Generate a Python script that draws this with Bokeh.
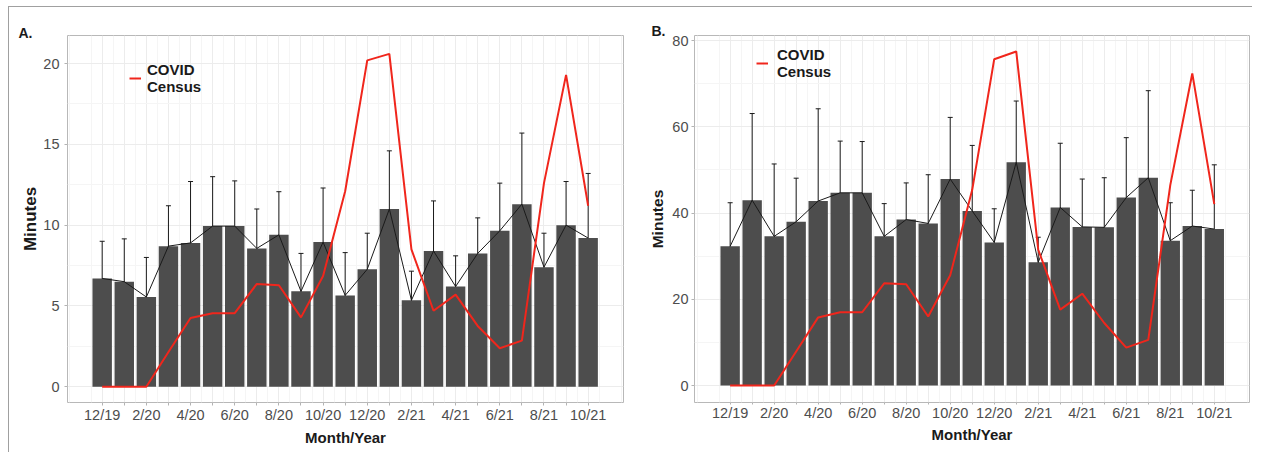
from bokeh.plotting import figure
from bokeh.models import (ColumnDataSource, FixedTicker, Whisker, TeeHead, Legend,
                          LegendItem, Range1d)
from bokeh.layouts import row
from bokeh.embed import file_html
from bokeh.resources import INLINE

months = ["12/19", "1/20", "2/20", "3/20", "4/20", "5/20", "6/20", "7/20", "8/20", "9/20",
          "10/20", "11/20", "12/20", "1/21", "2/21", "3/21", "4/21", "5/21", "6/21", "7/21",
          "8/21", "9/21", "10/21"]

# Panel A
mean_a = [6.7, 6.5, 5.55, 8.7, 8.9, 9.94, 9.94, 8.56, 9.4, 5.9, 8.95, 5.65, 7.27, 11.0,
          5.35, 8.4, 6.2, 8.25, 9.65, 11.3, 7.4, 10.0, 9.2]
lo_a = [4.47, 3.8, 3.1, 6.15, 5.2, 6.85, 7.15, 6.13, 6.77, 3.6, 5.7, 3.0, 5.1, 7.4,
        3.5, 5.4, 4.35, 6.1, 6.7, 6.85, 5.35, 7.25, 5.2]
hi_a = [9.0, 9.15, 8.0, 11.2, 12.7, 13.0, 12.74, 11.0, 12.07, 8.25, 12.3, 8.3, 9.5, 14.6,
        7.15, 11.5, 8.1, 10.45, 12.6, 15.7, 9.5, 12.7, 13.2]
covid_a = [0, 0, 0, 2.15, 4.25, 4.55, 4.55, 6.36, 6.28, 4.29, 6.85, 12.1, 20.2, 20.6,
           8.5, 4.7, 5.7, 3.76, 2.38, 2.85, 12.6, 19.3, 11.2]

# Panel B
mean_b = [32.3, 43.0, 34.6, 38.0, 42.8, 44.7, 44.7, 34.6, 38.5, 37.6, 47.9, 40.5, 33.2,
          51.8, 28.6, 41.3, 36.8, 36.7, 43.6, 48.2, 33.6, 37.0, 36.3]
lo_b = [22.4, 22.9, 17.8, 28.0, 21.2, 32.5, 32.9, 26.8, 30.1, 26.4, 33.8, 25.3, 25.3,
        37.8, 22.7, 26.4, 25.6, 25.4, 30.0, 28.1, 24.9, 28.7, 21.5]
hi_b = [42.4, 63.1, 51.4, 48.1, 64.2, 56.7, 56.6, 42.2, 47.0, 48.9, 62.2, 55.7, 41.0,
        66.0, 34.4, 56.2, 47.9, 48.2, 57.5, 68.4, 42.4, 45.3, 51.2]
covid_b = [0, 0, 0, 7.9, 15.8, 17.0, 17.0, 23.7, 23.5, 16.0, 25.6, 45.4, 75.7, 77.5,
           31.5, 17.6, 21.3, 14.5, 8.8, 10.6, 46.5, 72.4, 42.1]

yticks_a = [0, 5, 10, 15, 20]
yminor_a = [2.5, 7.5, 12.5, 17.5]
yticks_b = [0, 20, 40, 60, 80]
yminor_b = [10, 30, 50, 70]

RED = "#f0261c"
BAR = "#4d4d4d"
FONT = "Liberation Sans"


def panel(tag, mean, lo, hi, covid, xr, yr, yt, ym, width, height, mb, legend_xy,
          leg_standoff, tag_offset, tag_standoff, x_tick_out, xl_so, xal_so, yl_so,
          yal_so, ytitle_size):
    xs = list(range(len(months)))
    src = ColumnDataSource(dict(x=xs, mean=mean, lo=lo, hi=hi, covid=covid))
    p = figure(width=width, height=height, output_backend="svg", toolbar_location=None,
               x_range=Range1d(*xr), y_range=Range1d(*yr),
               min_border_left=mb[0], min_border_right=mb[1],
               min_border_top=mb[2], min_border_bottom=mb[3])
    p.background_fill_color = "white"
    p.border_fill_color = "white"
    p.outline_line_color = "#b8b8b8"
    p.outline_line_width = 1

    p.title.text = tag
    p.title.align = "left"
    p.title.offset = tag_offset
    p.title.standoff = tag_standoff
    p.title.text_font = FONT
    p.title.text_font_size = "14px"
    p.title.text_font_style = "bold"
    p.title.text_color = "#1a1a1a"

    p.vbar(x="x", top="mean", width=0.88, bottom=0, source=src, fill_color=BAR,
           line_color=None)
    p.add_layout(Whisker(base="x", lower="lo", upper="hi", source=src,
                         line_color="#1a1a1a", line_width=1,
                         upper_head=TeeHead(size=5, line_color="#1a1a1a", line_width=1),
                         lower_head=TeeHead(size=5, line_color="#1a1a1a", line_width=1)))
    p.line("x", "mean", source=src, line_color="#1a1a1a", line_width=1)
    r = p.line("x", "covid", source=src, line_color=RED, line_width=2)

    p.xaxis.ticker = FixedTicker(ticks=xs, minor_ticks=[i + 0.5 for i in range(-3, 24)])
    p.xaxis.major_label_overrides = {i: (m if i % 2 == 0 else "") for i, m in enumerate(months)}
    p.yaxis.ticker = FixedTicker(ticks=yt, minor_ticks=ym)

    for ax in (p.xaxis, p.yaxis):
        ax.axis_line_color = None
        ax.major_tick_line_color = "#b3b3b3"
        ax.major_tick_in = 0
        ax.major_tick_out = 3
        ax.minor_tick_line_color = None
        ax.major_label_text_font = FONT
        ax.major_label_text_font_size = "14.5px"
        ax.major_label_text_color = "#4d4d4d"
        ax.axis_label_text_font = FONT
        ax.axis_label_text_font_size = "15px"
        ax.axis_label_text_font_style = "bold"
        ax.axis_label_text_color = "#1a1a1a"
    p.xaxis.major_tick_out = x_tick_out
    p.yaxis.axis_label_text_font_size = ytitle_size
    p.xaxis.axis_label = "Month/Year"
    p.yaxis.axis_label = "Minutes"
    p.xaxis.major_label_standoff = xl_so
    p.xaxis.axis_label_standoff = xal_so
    p.yaxis.major_label_standoff = yl_so
    p.yaxis.axis_label_standoff = yal_so

    p.xgrid.grid_line_color = "#ececec"
    p.ygrid.grid_line_color = "#ececec"
    p.xgrid.minor_grid_line_color = "#f5f5f5"
    p.ygrid.minor_grid_line_color = "#f5f5f5"

    leg = Legend(items=[LegendItem(label="COVID\nCensus", renderers=[r])],
                 location=legend_xy, padding=0, margin=0, border_line_color=None,
                 background_fill_alpha=0, glyph_width=12, label_standoff=leg_standoff)
    leg.label_text_font = FONT
    leg.label_text_font_size = "15px"
    leg.label_text_font_style = "bold"
    leg.label_text_color = "#1a1a1a"
    leg.label_text_line_height = 1.15
    p.add_layout(leg)
    return p


pA = panel("A.", mean_a, lo_a, hi_a, covid_a, (-1.57, 23.6), (-0.98, 21.74),
           yticks_a, yminor_a, 627, 445, (58, 13, 24, 47), (62, 307), 6, -49, -11,
           3, 0, 3, 4, 0, "17px")
pB = panel("B.", mean_b, lo_b, hi_b, covid_b, (-1.62, 23.6), (-3.94, 81.2),
           yticks_b, yminor_b, 616, 445, (58, 3, 28, 50), (62, 322), 9, -43, -7,
           2, -2, 2, 2, 3, "15.5px")

layout = row(pA, pB, styles={"border-top": "1.5px solid #a0a0a0",
                             "border-left": "1.5px solid #a0a0a0",
                             "margin-left": "8px", "margin-top": "6px"})

open("out.html", "w").write(file_html(layout, INLINE))
